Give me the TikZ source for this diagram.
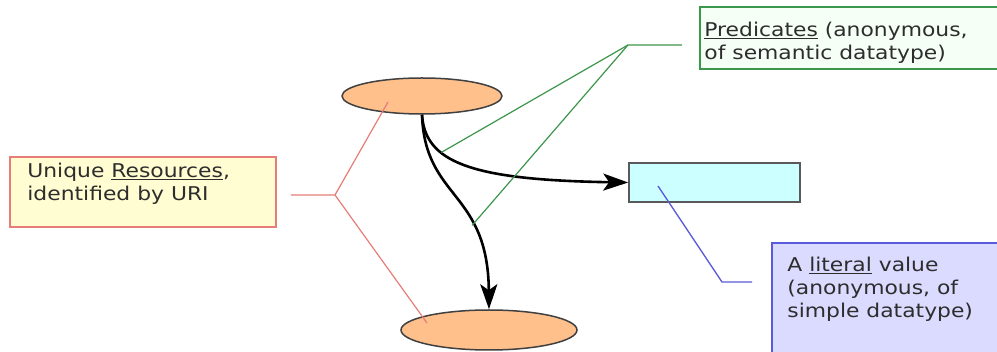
\documentclass[tikz,border=0pt]{standalone}
\usepackage{fontspec}
\setmainfont[FakeStretch=1.15]{DejaVu Sans}
\usepackage{tikz}
\usetikzlibrary{shapes.geometric,arrows.meta,positioning,calc}
\usepackage{xcolor}
\definecolor{peach}{RGB}{255,192,140}
\definecolor{litcyan}{RGB}{204,255,255}
\definecolor{notered}{RGB}{230,125,120}
\definecolor{notegreen}{RGB}{60,150,75}
\definecolor{noteblue}{RGB}{90,90,220}
\definecolor{textgray}{RGB}{45,45,45}

\begin{document}
\begin{tikzpicture}[
    x=1pt, y=-1pt,
    resource/.style={ellipse, draw=black!75, fill=peach, line width=1.5pt},
    literal/.style={rectangle, draw=black!65, fill=litcyan, line width=1.6pt,
                    minimum width=171pt, minimum height=39pt},
    notebox/.style={rectangle, line width=1.6pt, inner sep=0pt},
    notetext/.style={font=\fontsize{19}{23}\selectfont, text=textgray,
                     align=left, inner sep=0pt, anchor=north west},
    arrow/.style={-{Stealth[length=25pt,width=17pt,inset=6pt]}, line width=2.6pt, color=black},
    rescon/.style={draw=notered, line width=1.2pt},
    predcon/.style={draw=notegreen, line width=1.2pt},
    litcon/.style={draw=noteblue, line width=1.3pt}
]

\useasboundingbox (0,0) rectangle (997,352);
\fill[white] (0,0) rectangle (997,352);
\clip (0,0) rectangle (997,352);

% Resources and the literal
\node[resource, minimum width=160pt, minimum height=36pt] (subj) at (422,96) {};
\node[resource, minimum width=176pt, minimum height=40pt] (obj) at (489,330) {};
\node[literal] (lit) at (714.5,182.5) {};

% Note boxes
\node[notebox, draw=notered, fill=yellow!18, minimum width=266pt, minimum height=70pt]
     (resnote) at (143,192) {};
\node[notebox, draw=notegreen, fill=green!4, minimum width=320pt, minimum height=62pt]
     (prednote) at (860,38) {};
\node[notebox, draw=noteblue, fill=blue!14, minimum width=250pt, minimum height=125pt]
     (litnote) at (897,305.5) {};

% Note texts
\node[notetext, below right=6.6pt and 18pt of resnote.north west] (restext)
     {Unique \underline{Resources},\\identified by URI};
\node[notetext, below right=15.6pt and 5pt of prednote.north west] (predtext)
     {\underline{Predicates} (anonymous,\\of semantic datatype)};
\node[notetext, below right=14.6pt and 16pt of litnote.north west] (littext)
     {A \underline{literal} value\\(anonymous, of\\simple datatype)};

% Statements
\draw[arrow] (subj.south) .. controls (425,162) and (470,180) .. coordinate[pos=0.33] (p1) (lit.west);
\draw[arrow] (subj.south) .. controls (425,200) and (488,190) .. coordinate[pos=0.67] (p2) (obj.north);

% Callout lines
\coordinate (resfork) at (335,195);
\draw[rescon] ([xshift=14pt]resnote.east |- resfork) -- (resfork)
      -- ($(subj.center)+(-34,6)$);
\draw[rescon] (resfork) -- ($(obj.center)+(-62,-7)$);

\coordinate (predfork) at (628,45);
\draw[predcon] ([xshift=-17pt]prednote.west |- predfork) -- (predfork) -- (p1);
\draw[predcon] (predfork) -- (p2);

\coordinate (litfork) at (722,282);
\draw[litcon] ([xshift=-19pt]litnote.west |- litfork) -- (litfork)
      -- ($(lit.center)+(-56.5,3.5)$);

\end{tikzpicture}
\end{document}
